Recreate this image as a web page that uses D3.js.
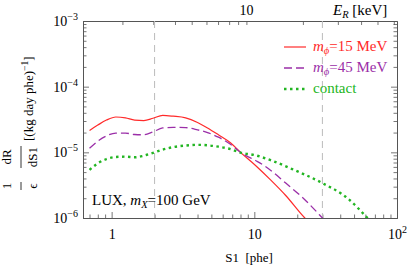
<!DOCTYPE html>
<html>
<head>
<meta charset="utf-8">
<script src="https://cdn.jsdelivr.net/npm/d3@7"></script>
<style>
  body { margin: 0; background: #fff; }
  svg text { font-family: "Liberation Serif", "DejaVu Serif", serif; }
</style>
</head>
<body>
<div id="chart"></div>
<script>
const width = 407
const height = 268

// S1 [phe] vs (1/eps) dR/dS1 [(kg day phe)^-1]
const s1Red = [0.70, 0.80, 0.92, 1.07, 1.25, 1.45, 1.68, 1.95, 2.28, 2.7, 3.3, 4.0, 4.7, 5.6, 6.8, 8.0, 10.2, 13, 16.6, 22.6, 26]
const rateRed = [2.15e-5, 2.6e-5, 3.1e-5, 3.45e-5, 3.35e-5, 3.1e-5, 3.05e-5, 3.3e-5, 3.65e-5, 3.55e-5, 3.35e-5, 2.85e-5, 2.35e-5, 1.85e-5, 1.4e-5, 1.0e-5, 6.3e-6, 3.8e-6, 2.2e-6, 1.0e-6, 0.75e-6]

const s1Purple = [0.70, 0.80, 0.92, 1.07, 1.25, 1.45, 1.68, 1.95, 2.28, 2.7, 3.3, 4.0, 4.7, 5.6, 6.8, 8.0, 10.2, 11.7, 16.6, 22.6, 30, 33]
const ratePurple = [1.15e-5, 1.48e-5, 1.78e-5, 1.96e-5, 1.96e-5, 1.87e-5, 1.85e-5, 2.05e-5, 2.35e-5, 2.4e-5, 2.38e-5, 2.2e-5, 2.0e-5, 1.7e-5, 1.33e-5, 1.0e-5, 7.5e-6, 6.3e-6, 3.4e-6, 1.9e-6, 1.0e-6, 0.8e-6]

const s1Green = [0.70, 0.80, 0.92, 1.07, 1.25, 1.45, 1.68, 1.95, 2.28, 2.7, 3.3, 4.0, 4.7, 5.6, 6.8, 8.0, 10.2, 13, 19, 30, 45, 62, 70]
const rateGreen = [5.4e-6, 6.8e-6, 7.9e-6, 8.5e-6, 8.6e-6, 8.4e-6, 8.9e-6, 9.8e-6, 1.1e-5, 1.2e-5, 1.27e-5, 1.3e-5, 1.28e-5, 1.22e-5, 1.12e-5, 9.9e-6, 9.0e-6, 7.6e-6, 5.4e-6, 3.4e-6, 2.0e-6, 1.0e-6, 0.75e-6]

const seriesLabels = ['=15 MeV', '=45 MeV', 'contact']
const seriesColors = ['#ff2a2a', '#9b2fa8', '#22b522']

// analysis window in S1
const s1Window = [2, 30]

// top axis: recoil energy ticks (keV) and where they sit in S1
const eRTicks = [2, 3, 4, 5, 6, 7, 8, 9, 10, 20, 30, 40, 50, 60]
const eRTickS1 = [1.19, 1.96, 2.78, 3.64, 4.62, 5.57, 6.66, 7.7, 8.8, 21.9, 38.5, 56, 73, 95]

const yMajor = [1e-6, 1e-5, 1e-4, 1e-3]
const yExp = ['\u22126', '\u22125', '\u22124', '\u22123']

const svg = d3.select('#chart').append('svg')
  .attr('width', width)
  .attr('height', height)

const x = d3.scaleLog().domain([0.63, 100]).range([83, 397])
const y = d3.scaleLog().domain([1e-6, 1e-3]).range([218, 21])

const frameColor = '#555'
const tickFont = '14px'
const supFont = '10px'
const textFont = '15px'
const subFont = '10.5px'
const titleFont = '13px'

// minor tick positions
const xMinor = []
for (const p of [0.1, 1, 10]) {
  for (let k = 2; k <= 9; k++) {
    const v = +(k * p).toPrecision(2)
    if (v >= 0.63) xMinor.push(v)
  }
}
const yMinor = []
for (const p of [1e-6, 1e-5, 1e-4]) {
  for (let k = 2; k <= 9; k++) yMinor.push(k * p)
}

function styleAxis(g) {
  g.selectAll('.domain').attr('stroke', frameColor).attr('stroke-width', 1)
  g.selectAll('.tick line').attr('stroke', frameColor).attr('stroke-width', 0.8)
  g.selectAll('text').attr('fill', '#000').style('font-size', tickFont)
}

// bottom axis
svg.append('g').attr('transform', 'translate(0,218)')
  .call(d3.axisBottom(x).tickValues(xMinor).tickSize(-3.5).tickSizeOuter(0).tickFormat(''))
  .call(styleAxis)
const bottom = svg.append('g').attr('transform', 'translate(0,218)')
  .call(d3.axisBottom(x).tickValues([1, 10, 100]).tickSize(-6).tickSizeOuter(0).tickPadding(11).tickFormat(''))
  .call(styleAxis)
bottom.selectAll('.tick text').each(function (d) {
  const t = d3.select(this)
  if (d === 100) {
    t.append('tspan').text('10')
    t.append('tspan').attr('dy', -6).style('font-size', supFont).text('2')
  } else {
    t.text(String(d))
  }
})

// top axis: recoil energy
svg.append('g').attr('transform', 'translate(0,21)')
  .call(d3.axisTop(x).tickValues(eRTickS1).tickSize(-4).tickSizeOuter(0).tickFormat(''))
  .call(styleAxis)
svg.append('text')
  .attr('x', x(eRTickS1[eRTicks.indexOf(10)]))
  .attr('y', 15)
  .attr('text-anchor', 'middle')
  .style('font-size', tickFont)
  .text('10')
const erLabel = svg.append('text').attr('x', 333).attr('y', 15).style('font-size', textFont)
erLabel.append('tspan').style('font-style', 'italic').text('E')
erLabel.append('tspan').attr('dy', 3).style('font-size', subFont).style('font-style', 'italic').text('R')
erLabel.append('tspan').attr('dy', -3).text(' [keV]')

// left axis
svg.append('g').attr('transform', 'translate(83,0)')
  .call(d3.axisLeft(y).tickValues(yMinor).tickSize(-3.5).tickSizeOuter(0).tickFormat(''))
  .call(styleAxis)
const left = svg.append('g').attr('transform', 'translate(83,0)')
  .call(d3.axisLeft(y).tickValues(yMajor).tickSize(-6).tickSizeOuter(0).tickPadding(5).tickFormat(''))
  .call(styleAxis)
left.selectAll('.tick text').each(function (d, i) {
  const t = d3.select(this)
  t.append('tspan').text('10')
  t.append('tspan').attr('dy', -6).style('font-size', supFont).text(yExp[i])
})

// right axis
svg.append('g').attr('transform', 'translate(397,0)')
  .call(d3.axisRight(y).tickValues(yMinor).tickSize(-3.5).tickSizeOuter(0).tickFormat(''))
  .call(styleAxis)
svg.append('g').attr('transform', 'translate(397,0)')
  .call(d3.axisRight(y).tickValues(yMajor).tickSize(-6).tickSizeOuter(0).tickFormat(''))
  .call(styleAxis)

// analysis window lines
svg.append('g').selectAll('line')
  .data(s1Window)
  .enter()
  .append('line')
    .attr('x1', d => x(d)).attr('x2', d => x(d))
    .attr('y1', 21).attr('y2', 218)
    .attr('stroke', '#bbb')
    .attr('stroke-width', 1)
    .attr('stroke-dasharray', '7,5')

// curves
svg.append('clipPath').attr('id', 'plot-clip')
  .append('rect').attr('x', 83).attr('y', 21).attr('width', 314).attr('height', 197)

const line = d3.line()
  .x(d => x(d[0]))
  .y(d => y(d[1]))
  .curve(d3.curveMonotoneX)

const curves = [
  { pts: d3.zip(s1Red, rateRed), dash: null, w: 1.2 },
  { pts: d3.zip(s1Purple, ratePurple), dash: '8,4', w: 1.3 },
  { pts: d3.zip(s1Green, rateGreen), dash: '2.5,3.5', w: 2.4 }
]

svg.append('g').attr('clip-path', 'url(#plot-clip)')
  .selectAll('path')
  .data(curves)
  .enter()
  .append('path')
    .attr('d', d => line(d.pts))
    .attr('fill', 'none')
    .attr('stroke', (d, i) => seriesColors[i])
    .attr('stroke-width', d => d.w)
    .attr('stroke-dasharray', d => d.dash)

// legend
const legend = svg.append('g')
const rowY = [47, 68, 89]
curves.forEach((c, i) => {
  legend.append('line')
    .attr('x1', 284).attr('x2', 306)
    .attr('y1', rowY[i]).attr('y2', rowY[i])
    .attr('stroke', seriesColors[i])
    .attr('stroke-width', c.w)
    .attr('stroke-dasharray', c.dash)
  const t = legend.append('text')
    .attr('x', 313).attr('y', rowY[i] + 4)
    .attr('fill', seriesColors[i])
    .style('font-size', textFont)
  if (i < 2) {
    t.append('tspan').style('font-style', 'italic').text('m')
    t.append('tspan').attr('dy', 3).style('font-size', subFont).style('font-style', 'italic').text('\u03d5')
    t.append('tspan').attr('dy', -3).text(seriesLabels[i])
  } else {
    t.text(seriesLabels[i])
  }
})

// annotation
const note = svg.append('text').attr('x', 92).attr('y', 205).style('font-size', textFont)
note.append('tspan').text('LUX,  ')
note.append('tspan').style('font-style', 'italic').text('m')
note.append('tspan').attr('dy', 3).style('font-size', subFont).style('font-style', 'italic').text('X')
note.append('tspan').attr('dy', -3).text('=100 GeV')

// x label
svg.append('text')
  .attr('x', 249).attr('y', 262)
  .attr('text-anchor', 'middle')
  .style('font-size', titleFont)
  .style('white-space', 'pre')
  .text('S1  [phe]')

// y label, rotated (local x runs up the page)
const yl = svg.append('g').attr('transform', 'translate(21,200) rotate(-90)')
function frac(g, u, num, den, w) {
  g.append('line').attr('x1', u).attr('x2', u + w).attr('y1', 0).attr('y2', 0)
    .attr('stroke', '#000').attr('stroke-width', 0.8)
  g.append('text').attr('x', u + w / 2).attr('y', -10).attr('text-anchor', 'middle')
    .style('font-size', titleFont).text(num)
  g.append('text').attr('x', u + w / 2).attr('y', 16).attr('text-anchor', 'middle')
    .style('font-size', titleFont).text(den)
}
frac(yl, 10, '1', '\u03f5', 8)
frac(yl, 32, 'dR', 'dS1', 22)
const unit = yl.append('text').attr('x', 59).attr('y', 12).style('font-size', titleFont)
unit.append('tspan').text('[(kg day phe)')
unit.append('tspan').attr('dy', -5).style('font-size', '9.5px').text('\u22121')
unit.append('tspan').attr('dy', 5).text(']')
</script>
</body>
</html>
